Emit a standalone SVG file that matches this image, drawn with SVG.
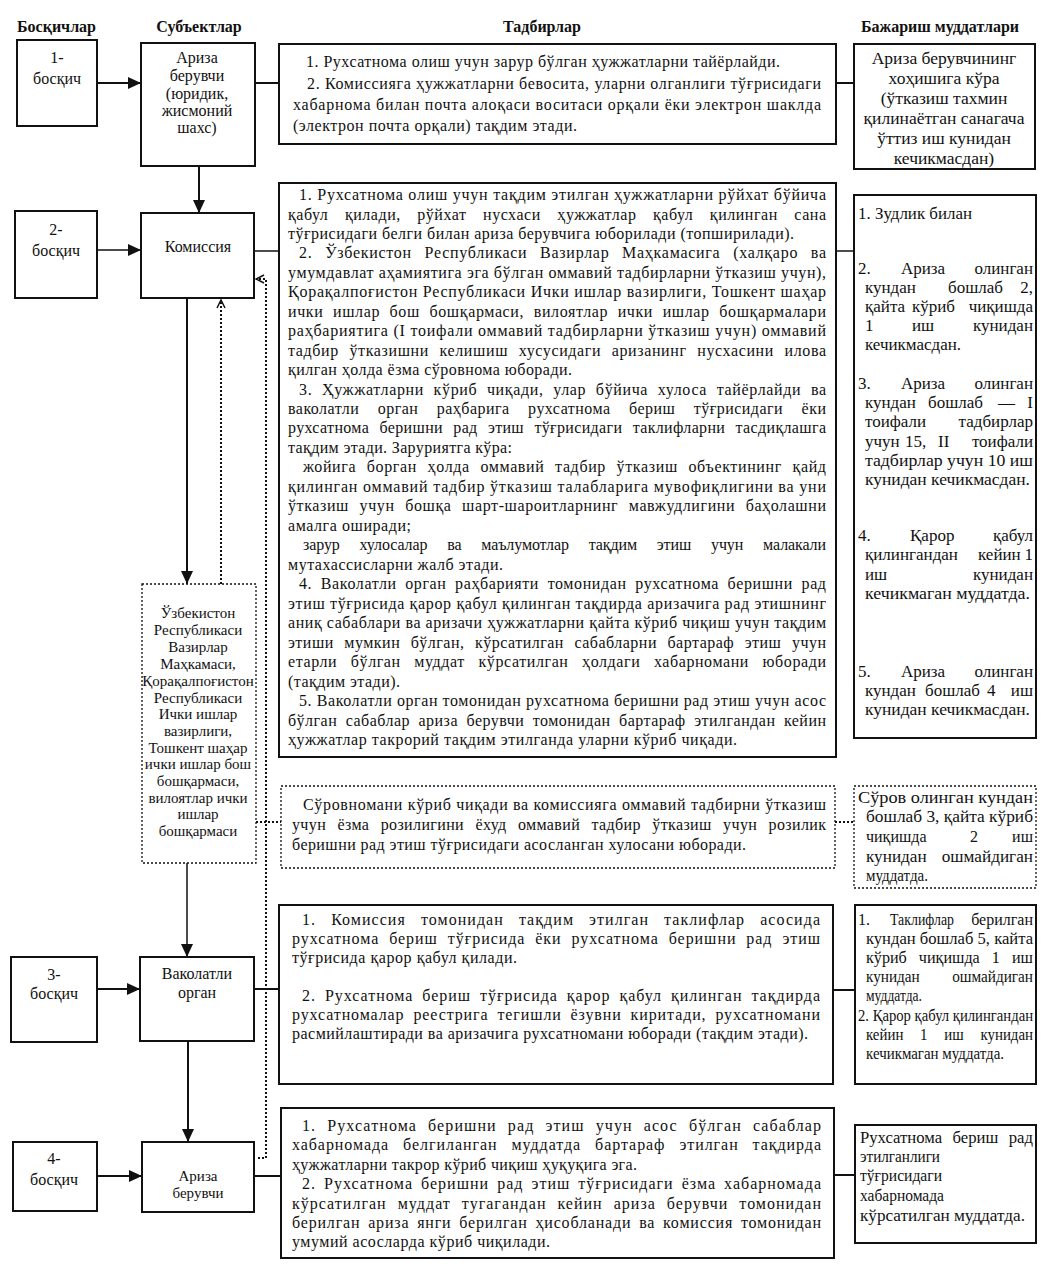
<svg xmlns="http://www.w3.org/2000/svg" width="1048" height="1272" viewBox="0 0 1048 1272">
<style>
text{font-family:"Liberation Serif","Times New Roman",serif;fill:#111;}
.h{font-size:16px;font-weight:bold;}
.t{font-size:16px;}
.s{font-size:15px;}
.d{font-size:17px;}
.dl{font-size:17.5px;}
.c{text-anchor:middle;}
.box{fill:#fff;stroke:#111;stroke-width:2;}
.dbox{fill:#fff;stroke:#111;stroke-width:1.3;stroke-dasharray:2 2;}
.ln{fill:none;stroke:#111;stroke-width:2;}
.thin{fill:none;stroke:#111;stroke-width:1.5;}
.dot{fill:none;stroke:#111;stroke-width:2;stroke-dasharray:2 2;}
.e{text-anchor:end;}
</style>
<defs>
<marker id="ar" markerUnits="userSpaceOnUse" markerWidth="14" markerHeight="14" refX="13" refY="7" orient="auto"><path d="M0,1 L13,7 L0,13 z" fill="#111"/></marker>
<marker id="ao" markerUnits="userSpaceOnUse" markerWidth="10" markerHeight="10" refX="9" refY="5" orient="auto"><path d="M1,1 L9,5 L1,9" fill="none" stroke="#111" stroke-width="1.5"/></marker>
</defs>

<g id="headers">
<text class="h" x="17" y="32">Босқичлар</text>
<text class="h c" x="199" y="32">Субъектлар</text>
<text class="h c" x="542" y="32">Тадбирлар</text>
<text class="h c" x="940" y="32">Бажариш муддатлари</text>
</g>

<g id="connectors">
<line class="ln" x1="97" y1="83" x2="141" y2="83" marker-end="url(#ar)"/>
<line class="ln" x1="255" y1="83" x2="279" y2="83"/>
<line class="ln" x1="836" y1="83" x2="854" y2="83"/>
<line class="ln" x1="199" y1="166" x2="199" y2="213" marker-end="url(#ar)"/>
<line class="thin" x1="97" y1="250" x2="141" y2="250" marker-end="url(#ar)"/>
<line class="thin" x1="254" y1="251" x2="279" y2="251"/>
<line class="thin" x1="836" y1="251" x2="853" y2="251"/>
<line class="ln" x1="187" y1="298" x2="187" y2="584" marker-end="url(#ar)"/>
<line class="dot" x1="221" y1="584" x2="221" y2="300" marker-end="url(#ao)"/>
<polyline class="dot" points="258,1158 266,1158 266,279 256,279" marker-end="url(#ao)"/>
<line class="dot" x1="256" y1="822" x2="281" y2="822"/>
<line class="dot" x1="835" y1="822" x2="854" y2="822"/>
<line class="thin" x1="187" y1="863" x2="187" y2="957" marker-end="url(#ar)"/>
<line class="ln" x1="97" y1="989" x2="140" y2="989" marker-end="url(#ar)"/>
<line class="ln" x1="254" y1="989" x2="279" y2="989"/>
<line class="ln" x1="833" y1="990" x2="855" y2="990"/>
<line class="ln" x1="188" y1="1041" x2="188" y2="1142" marker-end="url(#ar)"/>
<line class="ln" x1="97" y1="1176" x2="142" y2="1176" marker-end="url(#ar)"/>
<line class="ln" x1="254" y1="1176" x2="281" y2="1176"/>
<line class="ln" x1="834" y1="1175" x2="855" y2="1175"/>
</g>

<g id="stage1">
<rect class="box" x="17" y="40" width="80" height="86"/>
<text class="t c" x="57" y="63">1-</text>
<text class="t c" x="57" y="84">босқич</text>
</g>
<g id="subject1">
<rect class="box" x="141" y="43" width="114" height="123"/>
<text class="t c" x="197" y="63">Ариза</text>
<text class="t c" x="197" y="81">берувчи</text>
<text class="t c" x="197" y="99">(юридик,</text>
<text class="t c" x="197" y="116">жисмоний</text>
<text class="t c" x="197" y="133">шахс)</text>
</g>
<g id="actions1">
<rect class="box" x="279" y="44" width="557" height="100"/>
<text class="t" x="306" y="67" textLength="474" lengthAdjust="spacing">1. Рухсатнома олиш учун зарур бўлган ҳужжатларни тайёрлайди.</text>
<text class="t" x="307" y="89" textLength="514" lengthAdjust="spacing">2. Комиссияга ҳужжатларни бевосита, уларни олганлиги тўғрисидаги</text>
<text class="t" x="293" y="110" textLength="528" lengthAdjust="spacing">хабарнома билан почта алоқаси воситаси орқали ёки электрон шаклда</text>
<text class="t" x="293" y="131" textLength="284" lengthAdjust="spacing">(электрон почта орқали) тақдим этади.</text>
</g>
<g id="deadline1">
<rect class="box" x="854" y="44" width="181" height="125"/>
<text class="dl c" x="944" y="64">Ариза берувчининг</text>
<text class="dl c" x="944" y="84">хоҳишига кўра</text>
<text class="dl c" x="944" y="104">(ўтказиш тахмин</text>
<text class="dl c" x="944" y="124">қилинаётган санагача</text>
<text class="dl c" x="944" y="144">ўттиз иш кунидан</text>
<text class="dl c" x="944" y="164">кечикмасдан)</text>
</g>

<g id="stage2">
<rect class="box" x="15" y="211" width="82" height="87"/>
<text class="t c" x="56" y="235">2-</text>
<text class="t c" x="56" y="256">босқич</text>
</g>
<g id="commission">
<rect class="box" x="141" y="213" width="113" height="85"/>
<text class="t c" x="198" y="252">Комиссия</text>
</g>
<g id="actions2">
<rect class="box" x="279" y="183" width="557" height="574"/>
<text class="t" x="299" y="200" textLength="527" lengthAdjust="spacing">1. Рухсатнома олиш учун тақдим этилган ҳужжатларни рўйхат бўйича</text>
<text class="t" x="288" y="219.5" textLength="538" lengthAdjust="spacing" word-spacing="12">қабул қилади, рўйхат нусхаси ҳужжатлар қабул қилинган сана</text>
<text class="t" x="288" y="239" textLength="506" lengthAdjust="spacing">тўғрисидаги белги билан ариза берувчига юборилади (топширилади).</text>
<text class="t" x="299" y="258" textLength="527" lengthAdjust="spacing" word-spacing="8">2. Ўзбекистон Республикаси Вазирлар Маҳкамасига (халқаро ва</text>
<text class="t" x="288" y="278" textLength="538" lengthAdjust="spacing">умумдавлат аҳамиятига эга бўлган оммавий тадбирларни ўтказиш учун),</text>
<text class="t" x="288" y="297" textLength="538" lengthAdjust="spacing">Қорақалпоғистон Республикаси Ички ишлар вазирлиги, Тошкент шаҳар</text>
<text class="t" x="288" y="317" textLength="538" lengthAdjust="spacing" word-spacing="5">ички ишлар бош бошқармаси, вилоятлар ички ишлар бошқармалари</text>
<text class="t" x="288" y="336" textLength="538" lengthAdjust="spacing">раҳбариятига (I тоифали оммавий тадбирларни ўтказиш учун) оммавий</text>
<text class="t" x="288" y="356" textLength="538" lengthAdjust="spacing" word-spacing="6">тадбир ўтказишни келишиш хусусидаги аризанинг нусхасини илова</text>
<text class="t" x="288" y="375" textLength="284" lengthAdjust="spacing">қилган ҳолда ёзма сўровнома юборади.</text>
<text class="t" x="299" y="395" textLength="527" lengthAdjust="spacing" word-spacing="5">3. Ҳужжатларни кўриб чиқади, улар бўйича хулоса тайёрлайди ва</text>
<text class="t" x="288" y="414" textLength="538" lengthAdjust="spacing" word-spacing="14">ваколатли орган раҳбарига рухсатнома бериш тўғрисидаги ёки</text>
<text class="t" x="288" y="433" textLength="538" lengthAdjust="spacing" word-spacing="6">рухсатнома беришни рад этиш тўғрисидаги таклифларни тасдиқлашга</text>
<text class="t" x="288" y="453" textLength="224" lengthAdjust="spacing">тақдим этади. Заруриятга кўра:</text>
<text class="t" x="303" y="472" textLength="523" lengthAdjust="spacing" word-spacing="6">жойига борган ҳолда оммавий тадбир ўтказиш объектининг қайд</text>
<text class="t" x="288" y="492" textLength="538" lengthAdjust="spacing">қилинган оммавий тадбир ўтказиш талабларига мувофиқлигини ва уни</text>
<text class="t" x="288" y="511" textLength="538" lengthAdjust="spacing" word-spacing="6">ўтказиш учун бошқа шарт-шароитларнинг мавжудлигини баҳолашни</text>
<text class="t" x="288" y="531" textLength="123" lengthAdjust="spacing">амалга оширади;</text>
<text class="t" x="303" y="550" textLength="523" lengthAdjust="spacing" word-spacing="16">зарур хулосалар ва маълумотлар тақдим этиш учун малакали</text>
<text class="t" x="288" y="570" textLength="215" lengthAdjust="spacing">мутахассисларни жалб этади.</text>
<text class="t" x="299" y="589" textLength="527" lengthAdjust="spacing" word-spacing="4">4. Ваколатли орган раҳбарияти томонидан рухсатнома беришни рад</text>
<text class="t" x="288" y="609" textLength="538" lengthAdjust="spacing">этиш тўғрисида қарор қабул қилинган тақдирда аризачига рад этишнинг</text>
<text class="t" x="288" y="628" textLength="538" lengthAdjust="spacing">аниқ сабаблари ва аризачи ҳужжатларни қайта кўриб чиқиш учун тақдим</text>
<text class="t" x="288" y="648" textLength="538" lengthAdjust="spacing" word-spacing="6">этиши мумкин бўлган, кўрсатилган сабабларни бартараф этиш учун</text>
<text class="t" x="288" y="667" textLength="538" lengthAdjust="spacing" word-spacing="9">етарли бўлган муддат кўрсатилган ҳолдаги хабарномани юборади</text>
<text class="t" x="288" y="687" textLength="112" lengthAdjust="spacing">(тақдим этади).</text>
<text class="t" x="299" y="706" textLength="527" lengthAdjust="spacing">5. Ваколатли орган томонидан рухсатнома беришни рад этиш учун асос</text>
<text class="t" x="288" y="726" textLength="538" lengthAdjust="spacing" word-spacing="4">бўлган сабаблар ариза берувчи томонидан бартараф этилгандан кейин</text>
<text class="t" x="288" y="745" textLength="449" lengthAdjust="spacing">ҳужжатлар такрорий тақдим этилганда уларни кўриб чиқади.</text>
</g>
<g id="deadline2">
<rect class="box" x="854" y="195" width="182" height="543"/>
<text class="d" x="858" y="219" textLength="114" lengthAdjust="spacingAndGlyphs">1. Зудлик билан</text>
<text class="d" y="274"><tspan x="858">2.</tspan><tspan x="901">Ариза</tspan><tspan class="e" x="1033">олинган</tspan></text>
<text class="d" y="293"><tspan x="865">кундан</tspan><tspan x="948">бошлаб</tspan><tspan class="e" x="1033">2,</tspan></text>
<text class="d" y="312"><tspan x="865">қайта</tspan><tspan x="912">кўриб</tspan><tspan class="e" x="1033">чиқишда</tspan></text>
<text class="d" y="331"><tspan x="865">1</tspan><tspan x="912">иш</tspan><tspan class="e" x="1033">кунидан</tspan></text>
<text class="d" x="865" y="350" textLength="96" lengthAdjust="spacingAndGlyphs">кечикмасдан.</text>
<text class="d" y="389"><tspan x="858">3.</tspan><tspan x="901">Ариза</tspan><tspan class="e" x="1033">олинган</tspan></text>
<text class="d" y="408"><tspan x="865">кундан</tspan><tspan x="928">бошлаб</tspan><tspan x="998">—</tspan><tspan class="e" x="1033">I</tspan></text>
<text class="d" y="427"><tspan x="865">тоифали</tspan><tspan class="e" x="1033">тадбирлар</tspan></text>
<text class="d" y="447"><tspan x="865">учун</tspan><tspan x="905">15,</tspan><tspan x="938">II</tspan><tspan class="e" x="1033">тоифали</tspan></text>
<text class="d" x="865" y="466" textLength="168" lengthAdjust="spacingAndGlyphs">тадбирлар учун 10 иш</text>
<text class="d" x="865" y="485" textLength="165" lengthAdjust="spacingAndGlyphs">кунидан кечикмасдан.</text>
<text class="d" y="541"><tspan x="858">4.</tspan><tspan x="910">Қарор</tspan><tspan class="e" x="1033">қабул</tspan></text>
<text class="d" y="560"><tspan x="865">қилингандан</tspan><tspan x="978">кейин</tspan><tspan class="e" x="1033">1</tspan></text>
<text class="d" y="580"><tspan x="865">иш</tspan><tspan class="e" x="1033">кунидан</tspan></text>
<text class="d" x="865" y="599" textLength="165" lengthAdjust="spacingAndGlyphs">кечикмаган муддатда.</text>
<text class="d" y="677"><tspan x="858">5.</tspan><tspan x="901">Ариза</tspan><tspan class="e" x="1033">олинган</tspan></text>
<text class="d" y="696"><tspan x="865">кундан</tspan><tspan x="925">бошлаб</tspan><tspan x="987">4</tspan><tspan class="e" x="1033">иш</tspan></text>
<text class="d" x="865" y="715" textLength="165" lengthAdjust="spacingAndGlyphs">кунидан кечикмасдан.</text>
</g>

<g id="ministries">
<rect class="dbox" x="142" y="584" width="114" height="279"/>
<text class="s c" x="198" y="618">Ўзбекистон</text>
<text class="s c" x="198" y="635">Республикаси</text>
<text class="s c" x="198" y="652">Вазирлар</text>
<text class="s c" x="198" y="669">Маҳкамаси,</text>
<text class="s c" x="198" y="686">Қорақалпоғистон</text>
<text class="s c" x="198" y="703">Республикаси</text>
<text class="s c" x="198" y="719">Ички ишлар</text>
<text class="s c" x="198" y="736">вазирлиги,</text>
<text class="s c" x="198" y="753">Тошкент шаҳар</text>
<text class="s c" x="198" y="769">ички ишлар бош</text>
<text class="s c" x="198" y="786">бошқармаси,</text>
<text class="s c" x="198" y="803">вилоятлар ички</text>
<text class="s c" x="198" y="819">ишлар</text>
<text class="s c" x="198" y="836">бошқармаси</text>
</g>
<g id="actions-ministries">
<rect class="dbox" x="281" y="786" width="554" height="82"/>
<text class="t" x="303" y="810" textLength="523" lengthAdjust="spacing">Сўровномани кўриб чиқади ва комиссияга оммавий тадбирни ўтказиш</text>
<text class="t" x="292" y="830" textLength="534" lengthAdjust="spacing" word-spacing="7">учун ёзма розилигини ёхуд оммавий тадбир ўтказиш учун розилик</text>
<text class="t" x="292" y="850" textLength="454" lengthAdjust="spacing">беришни рад этиш тўғрисидаги асосланган хулосани юборади.</text>
</g>
<g id="deadline-ministries">
<rect class="dbox" x="854" y="786" width="182" height="102"/>
<text class="t" x="858" y="803" textLength="175" lengthAdjust="spacingAndGlyphs">Сўров олинган кундан</text>
<text class="t" x="866" y="822" textLength="167" lengthAdjust="spacingAndGlyphs">бошлаб 3, қайта кўриб</text>
<text class="t" y="842"><tspan x="866">чиқишда</tspan><tspan x="970">2</tspan><tspan class="e" x="1033">иш</tspan></text>
<text class="t" x="866" y="862" textLength="167" lengthAdjust="spacingAndGlyphs" word-spacing="10">кунидан ошмайдиган</text>
<text class="t" x="866" y="881" textLength="62" lengthAdjust="spacingAndGlyphs">муддатда.</text>
</g>

<g id="stage3">
<rect class="box" x="11" y="957" width="86" height="85"/>
<text class="t c" x="54" y="980">3-</text>
<text class="t c" x="54" y="999">босқич</text>
</g>
<g id="authority">
<rect class="box" x="140" y="957" width="114" height="84"/>
<text class="t c" x="197" y="979">Ваколатли</text>
<text class="t c" x="197" y="998">орган</text>
</g>
<g id="actions3">
<rect class="box" x="279" y="905" width="554" height="179"/>
<text class="t" x="302" y="925" textLength="518" lengthAdjust="spacing" word-spacing="10">1. Комиссия томонидан тақдим этилган таклифлар асосида</text>
<text class="t" x="292" y="944" textLength="528" lengthAdjust="spacing" word-spacing="5">рухсатнома бериш тўғрисида ёки рухсатнома беришни рад этиш</text>
<text class="t" x="292" y="963" textLength="225" lengthAdjust="spacing">тўғрисида қарор қабул қилади.</text>
<text class="t" x="302" y="1001" textLength="518" lengthAdjust="spacing" word-spacing="4">2. Рухсатнома бериш тўғрисида қарор қабул қилинган тақдирда</text>
<text class="t" x="292" y="1020" textLength="528" lengthAdjust="spacing" word-spacing="4">рухсатномалар реестрига тегишли ёзувни киритади, рухсатномани</text>
<text class="t" x="292" y="1039" textLength="516" lengthAdjust="spacing">расмийлаштиради ва аризачига рухсатномани юборади (тақдим этади).</text>
</g>
<g id="deadline3">
<rect class="box" x="855" y="905" width="181" height="179"/>
<text class="t" y="925"><tspan x="858">1.</tspan><tspan x="890" textLength="64" lengthAdjust="spacingAndGlyphs">Таклифлар</tspan><tspan class="e" x="1033">берилган</tspan></text>
<text class="t" x="866" y="944" textLength="167" lengthAdjust="spacingAndGlyphs">кундан бошлаб 5, кайта</text>
<text class="t" x="866" y="963" textLength="167" lengthAdjust="spacingAndGlyphs" word-spacing="8">кўриб чиқишда 1 иш</text>
<text class="t" x="866" y="982" textLength="167" lengthAdjust="spacingAndGlyphs" word-spacing="30">кунидан ошмайдиган</text>
<text class="t" x="866" y="1001" textLength="56" lengthAdjust="spacingAndGlyphs">муддатда.</text>
<text class="t" x="858" y="1021" textLength="175" lengthAdjust="spacingAndGlyphs">2. Қарор қабул қилингандан</text>
<text class="t" x="866" y="1040" textLength="167" lengthAdjust="spacingAndGlyphs" word-spacing="14">кейин 1 иш кунидан</text>
<text class="t" x="866" y="1059" textLength="138" lengthAdjust="spacingAndGlyphs">кечикмаган муддатда.</text>
</g>

<g id="stage4">
<rect class="box" x="13" y="1142" width="84" height="69"/>
<text class="t c" x="54" y="1164">4-</text>
<text class="t c" x="54" y="1185">босқич</text>
</g>
<g id="applicant2">
<rect class="box" x="142" y="1142" width="112" height="70"/>
<text class="s c" x="198" y="1181">Ариза</text>
<text class="s c" x="198" y="1198">берувчи</text>
</g>
<g id="actions4">
<rect class="box" x="281" y="1108" width="553" height="150"/>
<text class="t" x="302" y="1131" textLength="519" lengthAdjust="spacing" word-spacing="6">1. Рухсатнома беришни рад этиш учун асос бўлган сабаблар</text>
<text class="t" x="292" y="1150" textLength="529" lengthAdjust="spacing" word-spacing="9">хабарномада белгиланган муддатда бартараф этилган тақдирда</text>
<text class="t" x="292" y="1170" textLength="345" lengthAdjust="spacing">ҳужжатларни такрор кўриб чиқиш ҳуқуқига эга.</text>
<text class="t" x="302" y="1189" textLength="519" lengthAdjust="spacing" word-spacing="3">2. Рухсатнома беришни рад этиш тўғрисидаги ёзма хабарномада</text>
<text class="t" x="292" y="1209" textLength="529" lengthAdjust="spacing" word-spacing="6">кўрсатилган муддат тугагандан кейин ариза берувчи томонидан</text>
<text class="t" x="292" y="1228" textLength="529" lengthAdjust="spacing" word-spacing="3">берилган ариза янги берилган ҳисобланади ва комиссия томонидан</text>
<text class="t" x="292" y="1247" textLength="258" lengthAdjust="spacing">умумий асосларда кўриб чиқилади.</text>
</g>
<g id="deadline4">
<rect class="box" x="855" y="1125" width="181" height="118"/>
<text class="t" x="860" y="1143" textLength="173" lengthAdjust="spacingAndGlyphs" word-spacing="6">Рухсатнома бериш рад</text>
<text class="t" x="860" y="1162" textLength="80" lengthAdjust="spacingAndGlyphs">этилганлиги</text>
<text class="t" x="860" y="1181" textLength="82" lengthAdjust="spacingAndGlyphs">тўғрисидаги</text>
<text class="t" x="860" y="1201" textLength="84" lengthAdjust="spacingAndGlyphs">хабарномада</text>
<text class="t" x="860" y="1221" textLength="165" lengthAdjust="spacingAndGlyphs">кўрсатилган муддатда.</text>
</g>
</svg>
